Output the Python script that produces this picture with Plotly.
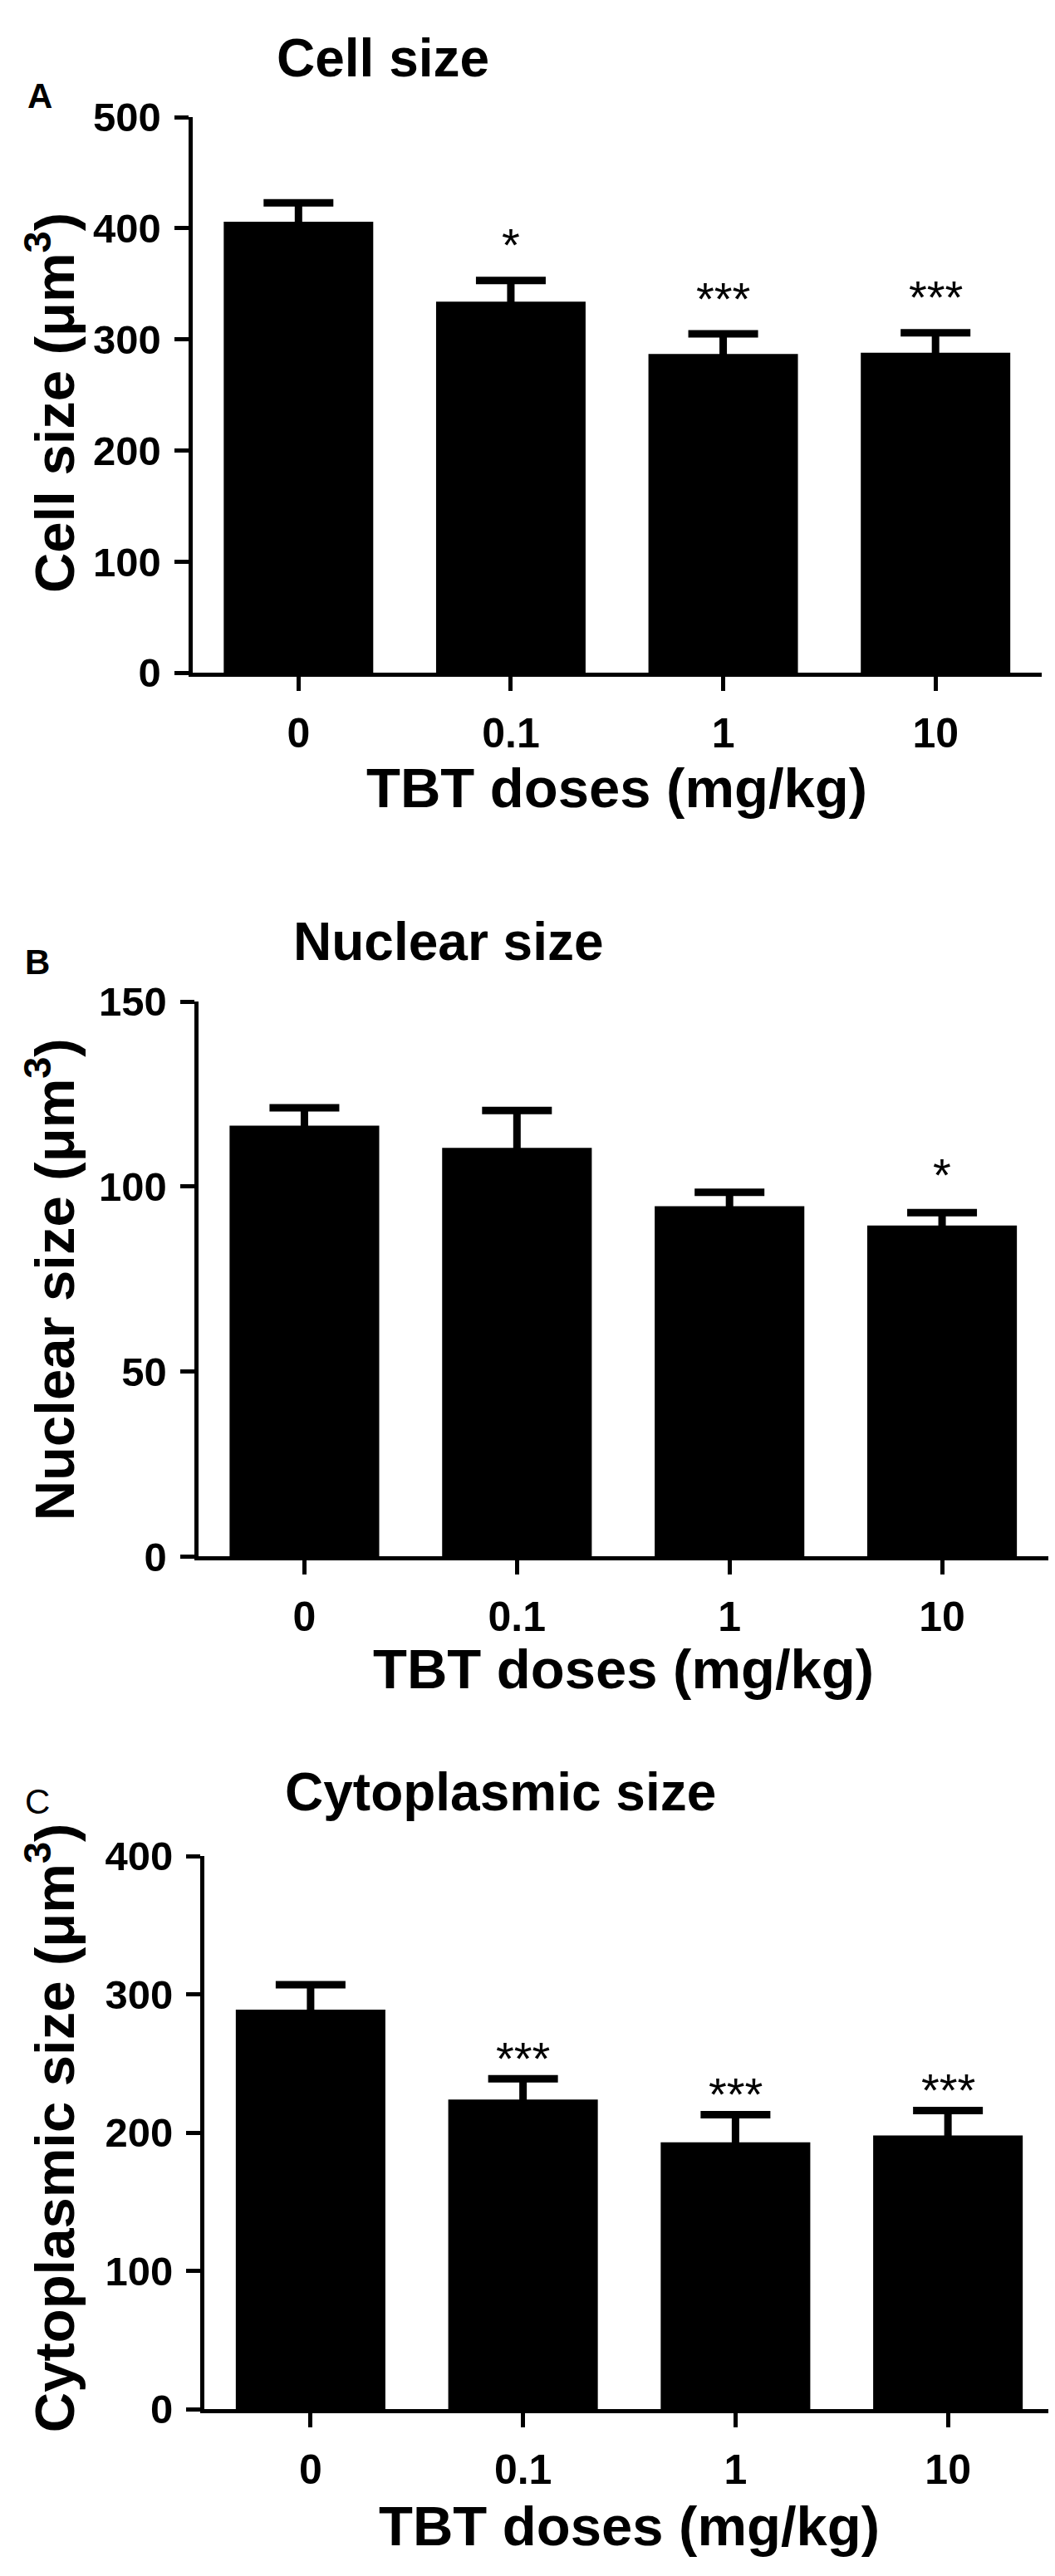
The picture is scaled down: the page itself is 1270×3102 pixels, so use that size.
import plotly.graph_objects as go

# TBT doses on the x axis
doses = ["0", "0.1", "1", "10"]

# mean and SEM
cell_mean = [406, 334, 287, 288]
cell_sem = [17, 19, 18, 18]
nuc_mean = [116.5, 110.5, 94.7, 89.5]
nuc_sem = [4.8, 10.1, 3.8, 3.5]
cyto_mean = [289, 224, 193, 198]
cyto_sem = [18, 15, 20, 18]

# significance marks above each bar
cell_sig = ["", "*", "***", "***"]
nuc_sig = ["", "", "", "*"]
cyto_sig = ["", "***", "***", "***"]

W, H = 1270, 3102
FONT = "Liberation Sans, Arial, Helvetica, sans-serif"


def fx(px):
    return px / W


def fy(py):
    return 1 - py / H


# panel boxes in pixels: left, right, top, bottom, axis range, dtick, star offset
panels = [
    dict(name="A", title="Cell size", ylab="Cell size (μm<sup>3</sup>)",
         mean=cell_mean, sem=cell_sem, sig=cell_sig,
         box=(223.5, 1246, 108, 789), yr=500, dt=100, star=43,
         letter=(40, 82, "bold"), tpos=(323, 36), ytc=458, xtc=930),
    dict(name="B", title="Nuclear size", ylab="Nuclear size (μm<sup>3</sup>)",
         mean=nuc_mean, sem=nuc_sem, sig=nuc_sig,
         box=(230.5, 1254, 1192, 1872), yr=150, dt=50, star=46,
         letter=(37, 1143, "bold"), tpos=(343, 1118), ytc=1533, xtc=2009),
    dict(name="C", title="Cytoplasmic size", ylab="Cytoplasmic size (μm<sup>3</sup>)",
         mean=cyto_mean, sem=cyto_sem, sig=cyto_sig,
         box=(238, 1261, 2239, 2917), yr=400, dt=100, star=25,
         letter=(37, 2172, "normal"), tpos=(333, 2161), ytc=2572, xtc=3060),
]

fig = go.Figure()
annotations = []
layout = {}

for i, p in enumerate(panels):
    n = "" if i == 0 else str(i + 1)
    xa, ya = "x" + n, "y" + n
    l, r, t, b = p["box"]

    fig.add_trace(go.Bar(
        x=doses, y=p["mean"], xaxis=xa, yaxis=ya,
        width=0.704, marker=dict(color="black", line=dict(width=0)),
        error_y=dict(type="data", array=p["sem"], color="black",
                     thickness=9, width=42),
    ))

    layout["xaxis" + n] = dict(
        domain=[fx(l), fx(r)], anchor=ya, type="category",
        categoryorder="array", categoryarray=doses, range=[-0.5, 3.5],
        showline=True, linewidth=5, linecolor="black",
        ticks="outside", ticklen=17, tickwidth=5, tickcolor="black",
        showgrid=False, zeroline=False, ticklabelstandoff=8,
        tickfont=dict(family=FONT, size=50, color="black", weight="bold"),
    )
    layout["yaxis" + n] = dict(
        domain=[fy(b), fy(t)], anchor=xa, range=[0, p["yr"]], dtick=p["dt"],
        showline=True, linewidth=5, linecolor="black",
        ticks="outside", ticklen=17, tickwidth=5, tickcolor="black",
        showgrid=False, zeroline=False, ticklabelstandoff=6,
        tickfont=dict(family=FONT, size=49, color="black", weight="bold"),
    )

    lx, ly, lw = p["letter"]
    annotations.append(dict(
        text=p["name"], xref="paper", yref="paper", x=fx(lx), y=fy(ly),
        xanchor="center", yanchor="middle", showarrow=False,
        font=dict(family=FONT, size=42, color="black", weight=lw),
    ))
    annotations.append(dict(
        text=p["title"], xref="paper", yref="paper",
        x=fx(p["tpos"][0]), y=fy(p["tpos"][1]),
        xanchor="left", yanchor="middle", showarrow=False,
        font=dict(family=FONT, size=64, color="black", weight="bold"),
    ))
    annotations.append(dict(
        text=p["ylab"], xref="paper", yref="paper", x=fx(53), y=fy(p["ytc"]),
        xanchor="center", yanchor="middle", textangle=-90, showarrow=False,
        font=dict(family=FONT, size=67, color="black", weight="bold"),
    ))
    annotations.append(dict(
        text="TBT doses (mg/kg)", xref="paper", yref="paper",
        x=fx((l + r) / 2), y=fy(p["xtc"]),
        xanchor="center", yanchor="middle", showarrow=False,
        font=dict(family=FONT, size=67, color="black", weight="bold"),
    ))
    for k, (m, s, sg) in enumerate(zip(p["mean"], p["sem"], p["sig"])):
        if sg:
            annotations.append(dict(
                text=sg, xref=xa, yref=ya, x=k, y=m + s, yshift=p["star"],
                xanchor="center", yanchor="middle", showarrow=False,
                font=dict(family=FONT, size=56, color="black"),
            ))

fig.update_layout(
    width=W, height=H, margin=dict(l=0, r=0, t=0, b=0),
    paper_bgcolor="white", plot_bgcolor="white", showlegend=False,
    annotations=annotations, **layout,
)

fig.write_html("out.html")
